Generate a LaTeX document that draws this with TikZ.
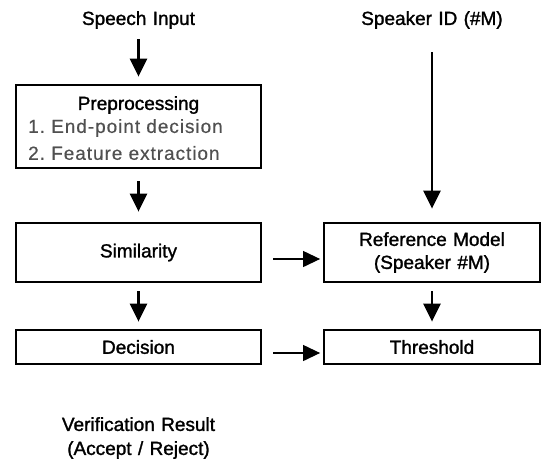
\documentclass[tikz,border=0pt]{standalone}
\usepackage{fontspec}
\setmainfont{Liberation Sans}[FakeBold=1.4]
\newfontfamily\itemfont[LetterSpace=5,FakeBold=0.4]{Liberation Sans}
\usetikzlibrary{arrows.meta}
\definecolor{itemgray}{RGB}{80,80,80}
\begin{document}
\begin{tikzpicture}[x=1pt,y=1pt,
  box/.style={draw, line width=2.8pt, minimum width=245pt, inner sep=0pt, align=center,
              font=\fontsize{19}{23}\selectfont},
  lbl/.style={inner sep=0pt, align=center, font=\fontsize{19}{24}\selectfont},
  itemlbl/.style={inner sep=0pt, anchor=west, text=itemgray, font=\itemfont\fontsize{19}{23}\selectfont},
  thickarr/.style={-{Triangle[length=18pt,width=17pt]}, line width=2.4pt},
  thinarr/.style={-{Triangle[length=17pt,width=16pt]}, line width=1.2pt}]
\useasboundingbox (0,0) rectangle (544,-459);

% left column
\node[lbl] (speech) at (138.5,-20) {Speech\,\,Input};
\node[box, minimum height=83pt] (pre) at (138.5,-126.5) {};
\node[lbl] (pretitle) at (138.5,-105) {Preprocessing};
\node[itemlbl] (item1) at (28,-128) {1.\ End-point decision};
\node[itemlbl] (item2) at (28,-153) {2.\ Feature extraction};
\node[box, minimum height=59pt] (sim) at (138.5,-252.5) {Similarity};
\node[box, minimum height=34pt] (dec) at (138.5,-347) {Decision};
\node[lbl] (result) at (138.5,-438) {Verification\,\,Result\\(Accept\,\,/\,\,Reject)};

% right column
\node[lbl] (speaker) at (432,-20) {Speaker\,\,ID\,\,(\#M)};
\node[box, minimum width=216pt, minimum height=59pt] (ref) at (432,-252.5) {Reference\,\,Model\\(Speaker\,\,\#M)};
\node[box, minimum width=216pt, minimum height=34pt] (thr) at (432,-347) {Threshold};

% vertical arrows
\draw[thickarr] ([yshift=-19pt]speech.center) -- ([yshift=7pt]pre.north);
\draw[thickarr] ([yshift=-12pt]pre.south) -- ([yshift=10pt]sim.north);
\draw[thickarr] ([yshift=-8pt]sim.south) -- ([yshift=7pt]dec.north);
\draw[thickarr] ([yshift=-32pt]speaker.center) -- ([yshift=13pt]ref.north);
\draw[thickarr] ([yshift=-8pt]ref.south) -- ([yshift=7pt]thr.north);

% horizontal arrows
\draw[thinarr] ([xshift=11pt,yshift=-6.5pt]sim.east) -- ([xshift=-2.5pt,yshift=-6.5pt]ref.west);
\draw[thinarr] ([xshift=11pt,yshift=-6pt]dec.east) -- ([xshift=-2.5pt,yshift=-6pt]thr.west);
\end{tikzpicture}
\end{document}
